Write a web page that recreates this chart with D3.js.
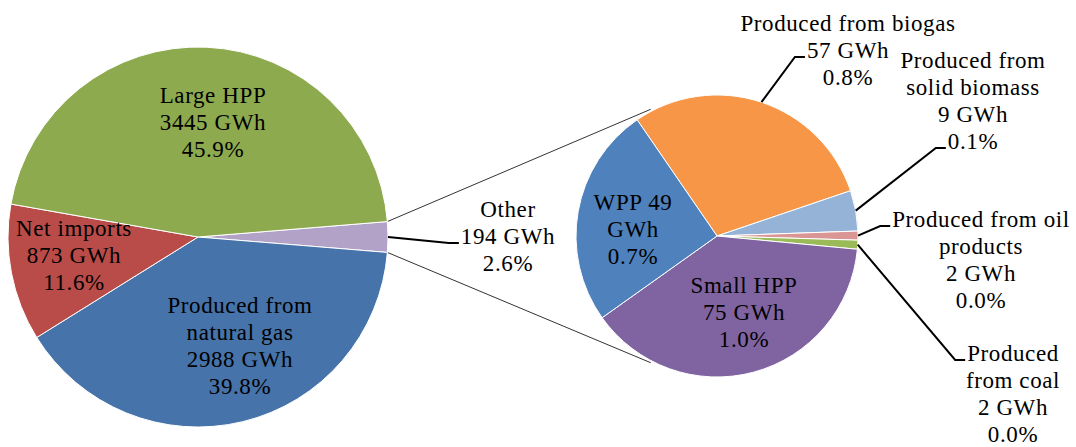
<!DOCTYPE html>
<html>
<head>
<meta charset="utf-8">
<script src="https://d3js.org/d3.v7.min.js"></script>
<style>
    body { margin: 0; background: #fff; }
    .label { font-family: "Liberation Serif", "Times New Roman", serif; font-size: 23px; letter-spacing: 0.6px; fill: #000; }
</style>
</head>
<body>
<div id="chart"></div>
<script>
// main pie: electricity supply
var mainNames = ["Other", "Produced from natural gas", "Net imports", "Large HPP"];
var mainValues = [194, 2988, 873, 3445];
var mainColors = ["#b3a2c7", "#4673aa", "#b94c49", "#8eaa4f"];

// second pie: what "Other" is made of
var otherNames = ["Produced from biogas", "Produced from solid biomass", "Produced from oil products",
    "Produced from coal", "Small HPP", "WPP"];
var otherValues = [57, 9, 2, 2, 75, 49];
var otherColors = ["#f79646", "#95b3d7", "#d99694", "#9bbb59", "#8064a2", "#4f81bd"];

// label text, {v} = GWh, {p} = share of the total
var mainLabelText = ["Other\n{v} GWh\n{p}", "Produced from\nnatural gas\n{v} GWh\n{p}",
    "Net imports\n{v} GWh\n{p}", "Large HPP\n{v} GWh\n{p}"];
var otherLabelText = ["Produced from biogas\n{v} GWh\n{p}", "Produced from\nsolid biomass\n{v} GWh\n{p}",
    "Produced from oil\nproducts\n{v} GWh\n{p}", "Produced\nfrom coal\n{v} GWh\n{p}",
    "Small HPP\n{v} GWh\n{p}", "WPP {v}\nGWh\n{p}"];

// layout
var width = 1076, height = 447;
var lineHeight = 27;
var mainPie = { cx: 198, cy: 237, r: 190 };
var otherPie = { cx: 717, cy: 236, r: 141, start: -34.5 };
// [dx, dy of first baseline, line the leader attaches to (-1 = no leader)]
var mainLabelPos = [[310, -20, 1], [42, 76, -1], [-124, -1, -1], [15, -134, -1]];
var otherLabelPos = [[131, -205, 1], [256, -168, 3], [264, -9, 0], [296, 125, 0], [27, 57, -1], [-84, -26, -1]];
var connectorAngle = 27.6;

var total = d3.sum(mainValues);
var pct = d3.format(".1%");
var rad = function(deg){ return deg * Math.PI / 180; };

var svg = d3.select("#chart").append("svg")
    .attr("width", width)
    .attr("height", height);

// pie layouts, "Other" centred at 3 o'clock
var otherShare = mainValues[0] / total;
var mainStart = Math.PI / 2 - Math.PI * otherShare;
var mainArcs = d3.pie().sort(null)
    .startAngle(mainStart)
    .endAngle(mainStart + 2 * Math.PI)(mainValues);

var otherArcs = d3.pie().sort(null)
    .startAngle(rad(otherPie.start))
    .endAngle(rad(otherPie.start) + 2 * Math.PI)(otherValues);

function pointAt(pie, angle, r){
    return [pie.cx + Math.sin(angle) * r, pie.cy - Math.cos(angle) * r];
}

// connector lines between the two pies
var otherSlice = mainArcs[0];
var connectors = [
    [pointAt(mainPie, otherSlice.startAngle, mainPie.r), pointAt(otherPie, rad(-connectorAngle), otherPie.r + 2)],
    [pointAt(mainPie, otherSlice.endAngle, mainPie.r), pointAt(otherPie, rad(180 + connectorAngle), otherPie.r + 2)]
];
svg.selectAll(".connector")
    .data(connectors)
    .enter().append("line")
    .attr("class", "connector")
    .attr("x1", function(d){ return d[0][0]; })
    .attr("y1", function(d){ return d[0][1]; })
    .attr("x2", function(d){ return d[1][0]; })
    .attr("y2", function(d){ return d[1][1]; })
    .attr("stroke", "#333")
    .attr("stroke-width", 1);

function drawPie(pie, arcs, colors, names, values, labelText, labelPos){
    var arc = d3.arc().innerRadius(0).outerRadius(pie.r);

    var g = svg.append("g")
        .attr("transform", "translate(" + pie.cx + "," + pie.cy + ")");

    g.selectAll("path")
        .data(arcs)
        .enter().append("path")
        .attr("d", arc)
        .attr("fill", function(d, i){ return colors[i]; })
        .attr("stroke", "#fff")
        .attr("stroke-width", 1);

    // labels
    arcs.forEach(function(d, i){
        var lines = labelText[i]
            .replace("{v}", values[i])
            .replace("{p}", pct(values[i] / total))
            .split("\n");
        var x = pie.cx + labelPos[i][0];
        var y0 = pie.cy + labelPos[i][1];

        var text = svg.append("text")
            .attr("class", "label")
            .attr("text-anchor", "middle");

        var spans = lines.map(function(line, j){
            return text.append("tspan")
                .attr("x", x)
                .attr("y", y0 + j * lineHeight)
                .text(line);
        });

        var k = labelPos[i][2];
        if (k >= 0) {
            var w = spans[k].node().getComputedTextLength();
            var endX = x - w / 2 - 2;
            var endY = y0 + k * lineHeight - 1;
            var mid = (d.startAngle + d.endAngle) / 2;
            var p0 = pointAt(pie, mid, pie.r);
            svg.append("path")
                .attr("class", "leader")
                .attr("d", d3.line()([p0, [endX - 10, endY], [endX, endY]]))
                .attr("fill", "none")
                .attr("stroke", "#000")
                .attr("stroke-width", 2);
        }
    });
}

drawPie(mainPie, mainArcs, mainColors, mainNames, mainValues, mainLabelText, mainLabelPos);
drawPie(otherPie, otherArcs, otherColors, otherNames, otherValues, otherLabelText, otherLabelPos);
</script>
</body>
</html>
